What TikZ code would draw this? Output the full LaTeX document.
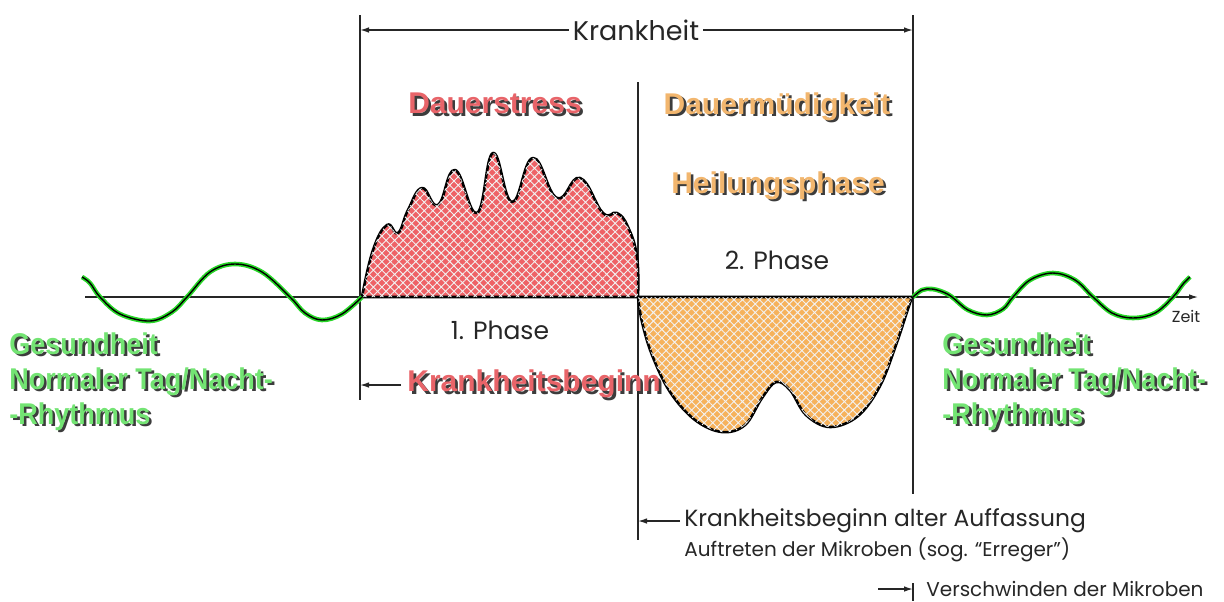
\documentclass[tikz,border=0pt]{standalone}
\usepackage{fontspec}
\setmainfont{Poppins}
\newfontfamily\heavy{Liberation Sans}
\newfontfamily\heavynarrow{Liberation Sans}[FakeStretch=0.9]
\usepackage{xcolor}
\usetikzlibrary{arrows.meta,positioning,patterns.meta}

\definecolor{stressred}{RGB}{238,98,102}
\definecolor{stresstext}{RGB}{232,100,105}
\definecolor{fatigueorange}{RGB}{246,178,92}
\definecolor{fatiguetext}{RGB}{242,182,110}
\definecolor{healthtext}{RGB}{115,228,115}
\definecolor{wavegreen}{RGB}{40,215,40}
\definecolor{shadowgray}{RGB}{60,60,60}

% coloured word with a dark drop shadow
\newcommand{\shadowed}[2]{\makebox[0pt][l]{\hspace{1.3pt}\raisebox{-1.3pt}{\textcolor{shadowgray}{#2}}}\textcolor{#1}{#2}}

\begin{document}
\begin{tikzpicture}[
    x=0.5pt, y=-0.5pt,
    guide/.style={line width=0.7pt, black!85},
    tip/.style={guide, -{Latex[length=4.5pt,width=2.8pt]}},
    bigword/.style={font=\heavy\bfseries\fontsize{15}{17.5}\selectfont, inner sep=0pt},
    health/.style={font=\heavynarrow\bfseries\fontsize{15}{17.5}\selectfont, inner sep=0pt, align=left},
    phase/.style={font=\fontsize{12.5}{14}\selectfont, text=black!85, inner sep=2pt},
    info/.style={font=\fontsize{11.7}{13}\selectfont, text=black!85, inner sep=2pt},
    note/.style={font=\fontsize{10}{11}\selectfont, text=black!85, inner sep=2pt},
    area/.style={draw=black, line width=1.3pt, line join=round,
        postaction={pattern={Hatch[angle=45,distance=3pt,line width=0.45pt]}, pattern color=white!90!gray}},
    wave/.style={draw=wavegreen, line width=0.8pt, double=black, double distance=0.7pt}
]
\useasboundingbox (0,0) rectangle (1224,601);

% Coordinates
\coordinate (onsetTop) at (360,15);
\coordinate (onsetBot) at (360,400);
\coordinate (turnTop) at (638,82);
\coordinate (turnBot) at (638,540);
\coordinate (endTop) at (913,15);
\coordinate (endBot) at (913,494);
\coordinate (endLow) at (913,583);
\coordinate (endFoot) at (913,601);
\coordinate (axisL) at (85,297);
\coordinate (axisR) at (1198,297);
\coordinate (vanishFrom) at (878,589);

% Time axis and guide lines
\draw[tip, line width=0.6pt] (axisL) -- (axisR);
\draw[guide] (onsetTop) -- (onsetBot);
\draw[guide] (turnTop) -- (turnBot);
\draw[guide] (endTop) -- (endBot);
\draw[guide] (endLow) -- (endFoot);

% Stress and fatigue areas
\draw[area, fill=stressred] plot[smooth, tension=0.75] coordinates {
    (362,297) (373,250) (387,225) (398,233) (408,210) (422,188) (438,205)
    (455,170) (477,213) (493,153) (512,202) (533,158) (557,198) (580,178)
    (603,213) (617,213) (628,227) (637,257) (638,297)} -- cycle;
\draw[area, fill=fatigueorange] plot[smooth, tension=0.6] coordinates {
    (638,297) (642,322) (652,355) (670,392) (695,420) (722,432) (745,425)
    (762,398) (776,382) (790,390) (806,415) (830,427) (858,416) (880,386)
    (896,345) (906,315) (912,297)} -- cycle;

% Healthy rhythm
\draw[wave] plot[smooth, tension=0.6] coordinates {
    (82,277) (90,283) (100,297) (120,314) (150,321) (172,312) (187,297)
    (210,272) (235,264) (262,272) (290,297) (305,313) (322,320) (342,314) (362,297)};
\draw[wave] plot[smooth, tension=0.6] coordinates {
    (913,297) (922,290) (932,289) (943,292) (952,297) (968,310) (987,315)
    (1003,309) (1013,297) (1030,280) (1053,273) (1075,280) (1093,297)
    (1112,313) (1133,318) (1155,313) (1173,297) (1183,284) (1190,277)};

% Nodes
\node[phase, font=\fontsize{13.5}{15}\selectfont, fill=white] (krank) at (636,30) {Krankheit};
\node[bigword] (stress) at (495,105) {\shadowed{stresstext}{Dauerstress}};
\node[bigword] (fatigue) at (777,108) {\shadowed{fatiguetext}{Dauermüdigkeit}};
\node[bigword] (heal) at (778,187) {\shadowed{fatiguetext}{Heilungsphase}};
\node[phase] (phase2) at (777,260) {2. Phase};
\node[phase] (phase1) at (500,330) {1. Phase};
\node[bigword, anchor=west] (onset) at (407,385) {\shadowed{stresstext}{Krankheitsbeginn}};
\node[health, anchor=north west] (healthL) at (9,332) {\shadowed{healthtext}{Gesundheit}\\
    \shadowed{healthtext}{Normaler Tag/Nacht-}\\ \shadowed{healthtext}{-Rhythmus}};
\node[health, anchor=north west] (healthR) at (942,332) {\shadowed{healthtext}{Gesundheit}\\
    \shadowed{healthtext}{Normaler Tag/Nacht-}\\ \shadowed{healthtext}{-Rhythmus}};
\node[note, font=\fontsize{8}{9}\selectfont] (zeit) at (1186,316) {Zeit};
\node[info, anchor=west] (oldview) at (680,521) {Krankheitsbeginn alter Auffassung};
\node[note, anchor=north west] (microbes) at ([yshift=2pt]oldview.south west) {Auftreten der Mikroben (sog. “Erreger”)};
\node[note, anchor=west] (vanish) at (922,589) {Verschwinden der Mikroben};

% Arrows
\draw[tip] (krank.west) -- (krank.west -| onsetTop);
\draw[tip] (krank.east) -- (krank.east -| endTop);
\draw[tip] ([xshift=-3pt]onset.west) -- (onset.west -| onsetTop);
\draw[tip] (oldview.west) -- (oldview.west -| turnTop);
\draw[tip] (vanishFrom) -- (vanishFrom -| endLow);
\end{tikzpicture}
\end{document}
